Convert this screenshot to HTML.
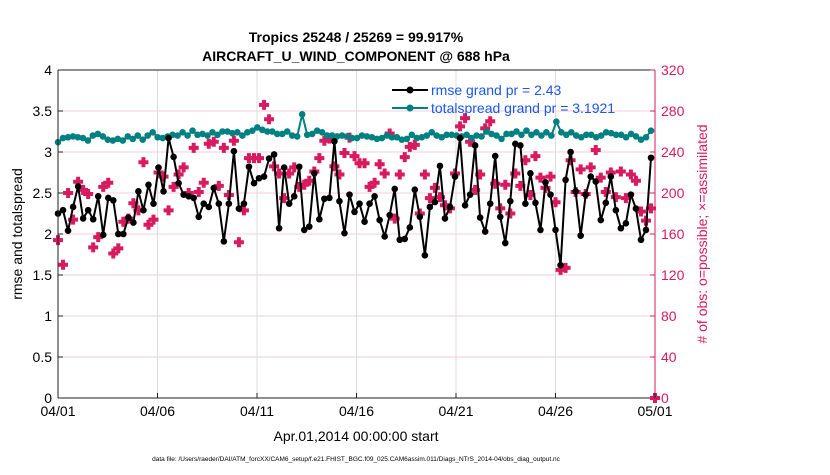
<!DOCTYPE html>
<html><head><meta charset="utf-8">
<style>
body{margin:0;background:#fff;width:830px;height:470px;overflow:hidden;font-family:"Liberation Sans",sans-serif}
</style></head>
<body>
<svg id="chart" width="830" height="470" xmlns="http://www.w3.org/2000/svg" font-family="Liberation Sans, sans-serif">
<text x="356" y="42" text-anchor="middle" font-size="14" font-weight="bold">Tropics 25248 / 25269 = 99.917%</text>
<text x="356" y="61" text-anchor="middle" font-size="14" font-weight="bold">AIRCRAFT_U_WIND_COMPONENT @ 688 hPa</text>
<g id="grid"></g>
<g id="marks"></g>
<g id="axes"></g>
<text transform="translate(22,234) rotate(-90)" text-anchor="middle" font-size="14">rmse and totalspread</text>
<text transform="translate(707,234) rotate(-90)" text-anchor="middle" font-size="14" fill="#d81b60"># of obs: o=possible; ×=assimilated</text>
<text x="356" y="441" text-anchor="middle" font-size="14">Apr.01,2014 00:00:00 start</text>
<text x="356" y="461" text-anchor="middle" font-size="6.5">data file: /Users/raeder/DAI/ATM_forcXX/CAM6_setup/f.e21.FHIST_BGC.f09_025.CAM6assim.011/Diags_NTrS_2014-04/obs_diag_output.nc</text>
<g id="legend">
<line x1="392" y1="90" x2="428" y2="90" stroke="#000" stroke-width="2"/>
<circle cx="410" cy="90" r="3.5" fill="#000"/>
<text x="431" y="95" font-size="14" fill="#1a56f0">rmse grand pr = 2.43</text>
<line x1="392" y1="108" x2="428" y2="108" stroke="#008080" stroke-width="2"/>
<circle cx="410" cy="108" r="3.5" fill="#008080"/>
<text x="431" y="113" font-size="14" fill="#1a56f0">totalspread grand pr = 3.1921</text>
</g>
</svg>
<script>
const rmse=[2.25,2.29,2.04,2.33,2.58,2.19,2.29,2.18,2.46,1.99,2.44,2.41,2.0,2.0,2.2,2.14,2.52,2.29,2.6,2.37,2.81,2.52,3.17,2.94,2.62,2.48,2.46,2.44,2.21,2.37,2.33,
2.56,2.37,1.91,2.37,3.01,2.31,2.37,2.82,2.62,2.68,2.7,2.92,2.97,2.07,2.81,2.37,2.46,2.82,2.05,2.09,2.74,2.18,2.43,2.44,3.13,2.4,2.01,2.48,2.27,2.37,
2.15,2.37,2.46,2.17,1.97,2.23,2.55,1.93,1.94,2.08,2.54,2.21,1.74,2.33,2.39,2.83,2.19,2.33,2.7,3.17,2.35,2.48,3.08,2.2,2.03,2.37,2.95,2.21,1.89,2.4,3.1,
3.08,2.37,2.74,2.38,2.05,2.63,2.48,2.05,1.62,2.66,3.0,2.52,1.98,2.48,2.7,2.64,2.17,2.38,2.7,2.29,2.07,2.13,2.48,2.31,1.93,2.05,2.93];
const spread=[3.12,3.17,3.18,3.19,3.18,3.17,3.14,3.2,3.22,3.19,3.15,3.14,3.16,3.14,3.19,3.16,3.2,3.15,3.2,3.24,3.18,3.17,3.19,3.21,3.2,3.24,3.2,3.26,3.21,3.22,3.2,
3.24,3.21,3.25,3.25,3.23,3.24,3.2,3.24,3.26,3.3,3.27,3.25,3.25,3.22,3.22,3.25,3.2,3.19,3.46,3.21,3.22,3.26,3.24,3.2,3.2,3.19,3.2,3.19,3.17,3.17,
3.2,3.19,3.18,3.16,3.17,3.2,3.18,3.18,3.15,3.16,3.21,3.17,3.18,3.2,3.24,3.2,3.18,3.21,3.21,3.2,3.19,3.21,3.17,3.2,3.19,3.25,3.22,3.2,3.16,3.22,3.22,
3.25,3.21,3.26,3.21,3.24,3.2,3.24,3.2,3.37,3.24,3.21,3.24,3.2,3.18,3.21,3.21,3.18,3.2,3.24,3.23,3.21,3.21,3.18,3.22,3.19,3.15,3.18,3.26];
const nobs=[154,130,200,174,211,203,199,147,157,206,210,141,146,172,175,190,183,230,169,174,220,216,183,206,218,225,200,244,201,210,248,
250,207,244,198,251,152,183,234,234,234,286,272,226,219,195,219,225,206,208,212,221,234,251,253,226,218,239,254,236,229,
229,206,210,228,219,258,175,218,235,245,247,180,218,195,205,196,188,185,219,265,273,250,203,218,263,270,209,185,208,180,
219,207,232,198,236,215,205,216,191,125,127,232,201,223,199,225,242,215,201,220,196,221,195,218,212,182,173,185];
const possibleEnd=[0];
const xTickLabels=["04/01","04/06","04/11","04/16","04/21","04/26","05/01"];
const xTickDays=[0,5,10,15,20,25,30];
const yTicks=[0,0.5,1,1.5,2,2.5,3,3.5,4];
const y2Ticks=[0,40,80,120,160,200,240,280,320];

const X0=58,X1=655,Y0=398,Y1=70;
const xs=d=>X0+(X1-X0)*d/30;
const ys=v=>Y0-(Y0-Y1)*v/4;
const y2s=v=>Y0-(Y0-Y1)*v/320;
const dayOf=(i,n)=>i*29.8/(n-1);
const NS="http://www.w3.org/2000/svg";
function mk(tag,attrs,parent){const e=document.createElementNS(NS,tag);for(const k in attrs)e.setAttribute(k,attrs[k]);parent.appendChild(e);return e;}
const grid=document.getElementById('grid'),marks=document.getElementById('marks'),axes=document.getElementById('axes');

y2Ticks.forEach(v=>{const l=mk('line',{x1:X0,x2:X1,y1:y2s(v),y2:y2s(v),stroke:'#f3cfdc','stroke-width':1},grid);

});
xTickDays.forEach(d=>{const l=mk('line',{x1:xs(d),x2:xs(d),y1:Y1,y2:Y0,stroke:'#dddddd','stroke-width':1},grid);

});

function series(arr,color,name){
  const pts=arr.map((v,i)=>xs(dayOf(i,arr.length)).toFixed(1)+','+ys(v).toFixed(1)).join(' ');
  const pl=mk('polyline',{points:pts,fill:'none',stroke:color,'stroke-width':2},marks);
  
  
  arr.forEach((v,i)=>{const c=mk('circle',{cx:xs(dayOf(i,arr.length)),cy:ys(v),r:3.3,fill:color},marks);
  
  });
}
function plus(x,y,name){
  const p=mk('path',{d:`M${x-2},${y-5}h4v3h3v4h-3v3h-4v-3h-3v-4h3z`,fill:'#d81b60'},marks);
  
  
}
nobs.forEach((v,i)=>plus(xs(dayOf(i,nobs.length)),y2s(v),'obs-count-marker'));
series(spread,'#008080','totalspread');
series(rmse,'#000000','rmse');
possibleEnd.forEach(v=>plus(X1,y2s(v),'obs-possible-marker'));

// axes
const ta=mk('line',{x1:X0,x2:X1,y1:Y1,y2:Y1,stroke:'#222','stroke-width':1},axes);


const la=mk('line',{x1:X0,x2:X0,y1:Y1,y2:Y0,stroke:'#222','stroke-width':1},axes);


const ra=mk('line',{x1:X1,x2:X1,y1:Y1,y2:Y0,stroke:'#d81b60','stroke-width':1},axes);


const ba=mk('line',{x1:X0,x2:X1,y1:Y0,y2:Y0,stroke:'#222','stroke-width':1},axes);


yTicks.forEach(v=>{mk('line',{x1:X0,x2:X0+5,y1:ys(v),y2:ys(v),stroke:'#222'},axes);
const t=mk('text',{x:X0-6,y:ys(v)+5,'text-anchor':'end','font-size':14},axes);t.textContent=v;

});
y2Ticks.forEach(v=>{mk('line',{x1:X1-5,x2:X1,y1:y2s(v),y2:y2s(v),stroke:'#d81b60'},axes);
const t=mk('text',{x:X1+6,y:y2s(v)+5,'font-size':14,fill:'#d81b60'},axes);t.textContent=v;

});
xTickDays.forEach((d,i)=>{mk('line',{x1:xs(d),x2:xs(d),y1:Y0,y2:Y0-5,stroke:'#222'},axes);
const t=mk('text',{x:xs(d),y:Y0+18,'text-anchor':'middle','font-size':14},axes);t.textContent=xTickLabels[i];

});
</script>
</body></html>
